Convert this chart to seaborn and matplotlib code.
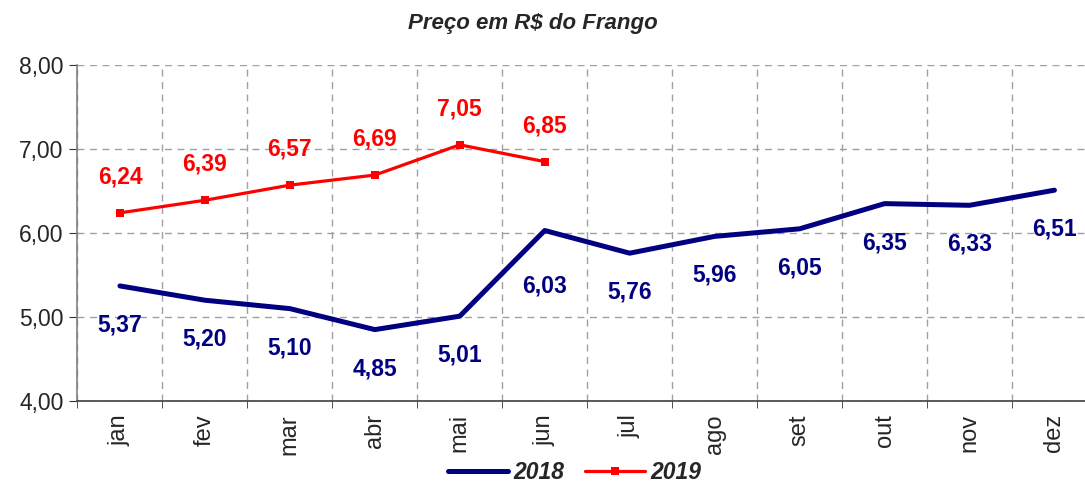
import pandas as pd
import seaborn as sns
import matplotlib.pyplot as plt
from matplotlib.ticker import MultipleLocator, FixedLocator

meses = ['jan', 'fev', 'mar', 'abr', 'mai', 'jun', 'jul', 'ago', 'set', 'out', 'nov', 'dez']
preco_2018 = [5.37, 5.20, 5.10, 4.85, 5.01, 6.03, 5.76, 5.96, 6.05, 6.35, 6.33, 6.51]
preco_2019 = [6.24, 6.39, 6.57, 6.69, 7.05, 6.85]

df = pd.concat([
    pd.DataFrame({'idx': range(len(preco_2018)), 'preco': preco_2018, 'ano': '2018'}),
    pd.DataFrame({'idx': range(len(preco_2019)), 'preco': preco_2019, 'ano': '2019'}),
])

sns.set_style('white')
plt.rcParams['font.family'] = ['Liberation Sans', 'DejaVu Sans']

fig = plt.figure(figsize=(10.85, 4.9), dpi=100)
ax = fig.add_axes([0.0714, 0.1816, 0.9396, 0.6857])

sns.lineplot(data=df[df['ano'] == '2018'], x='idx', y='preco', color='#000080',
             linewidth=3.6, ax=ax, label='2018')
sns.lineplot(data=df[df['ano'] == '2019'], x='idx', y='preco', color='#FF0000',
             linewidth=2.3, marker='s', markersize=5.5, markeredgewidth=0, ax=ax, label='2019')

def fmt(v):
    return f'{v:.2f}'.replace('.', ',')

# rótulos 2018 abaixo dos pontos
for i, v in enumerate(preco_2018):
    dy = -40 if i == 5 else -28
    ax.annotate(fmt(v), (i, v), xytext=(0, dy), textcoords='offset points',
                ha='center', va='center', color='#000080', fontsize=16.5, fontweight='bold')

# rótulos 2019 acima dos pontos
for i, v in enumerate(preco_2019):
    ax.annotate(fmt(v), (i, v), xytext=(0, 26), textcoords='offset points',
                ha='center', va='center', color='#FF0000', fontsize=16.5, fontweight='bold')

ax.set_xlim(-0.5, 11.5)
ax.set_ylim(4, 8)
ax.yaxis.set_major_locator(MultipleLocator(1))
ax.set_yticklabels([fmt(t) for t in ax.get_yticks()], fontsize=16.5)
ax.set_xticks(range(len(meses)))
ax.set_xticklabels(meses, rotation=90, fontsize=17)
ax.xaxis.set_minor_locator(FixedLocator([i + 0.5 for i in range(-1, 12)]))
ax.set_xlabel('')
ax.set_ylabel('')

ax.grid(axis='y', which='major', linestyle=(0, (5, 4)), color='#A0A0A0', linewidth=1)
ax.grid(axis='x', which='minor', linestyle=(0, (5, 4)), color='#A0A0A0', linewidth=1)
ax.tick_params(axis='y', which='major', left=True, length=6, color='#333333', pad=4)
ax.tick_params(axis='x', which='major', bottom=False, pad=6)
ax.tick_params(axis='x', which='minor', bottom=True, length=5, color='#333333')

for s in ['top', 'right']:
    ax.spines[s].set_visible(False)
ax.spines['left'].set_color('#808080')
ax.spines['bottom'].set_color('#404040')
ax.spines['left'].set_linewidth(1.2)
ax.spines['bottom'].set_linewidth(1.2)

ax.get_legend().remove()
handles, labels = ax.get_legend_handles_labels()
fig.legend(handles, labels, loc='lower center', bbox_to_anchor=(0.53, -0.03), ncol=2,
           frameon=False, prop={'size': 16.5, 'weight': 'bold', 'style': 'italic'},
           handlelength=2.6, columnspacing=0.9, handletextpad=0.25)

fig.text(0.491, 0.953, 'Preço em R\\$ do Frango', ha='center', va='center',
         fontsize=16, fontweight='bold', fontstyle='italic',
         family=['Liberation Sans Narrow', 'Liberation Sans'])

plt.savefig('out.png', dpi=100)
